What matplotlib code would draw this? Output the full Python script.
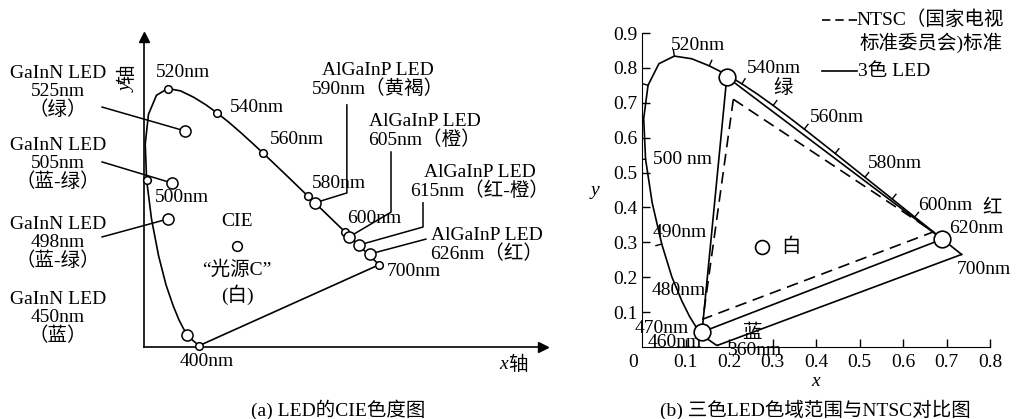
import numpy as np
import matplotlib
matplotlib.use('Agg')
import matplotlib.pyplot as plt

plt.rcParams['font.family'] = ['Liberation Serif', 'Noto Sans CJK SC']
plt.rcParams['font.size'] = 14

# CIE 1931 光谱轨迹 (波长 nm, x, y)
wl = np.array([380, 385, 390, 395, 400, 405, 410, 415, 420, 425, 430, 435, 440, 445,
               450, 455, 460, 465, 470, 475, 480, 485, 490, 495, 500, 505, 510, 515,
               520, 525, 530, 535, 540, 545, 550, 555, 560, 565, 570, 575, 580, 585,
               590, 595, 600, 605, 610, 615, 620, 625, 630, 635, 640, 645, 650, 660,
               670, 680, 690, 700])
cie_x = np.array([0.1741, 0.1740, 0.1738, 0.1736, 0.1733, 0.1730, 0.1726, 0.1721, 0.1714,
                  0.1703, 0.1689, 0.1669, 0.1644, 0.1611, 0.1566, 0.1510, 0.1440, 0.1355,
                  0.1241, 0.1096, 0.0913, 0.0687, 0.0454, 0.0235, 0.0082, 0.0039, 0.0139,
                  0.0389, 0.0743, 0.1142, 0.1547, 0.1929, 0.2296, 0.2658, 0.3016, 0.3373,
                  0.3731, 0.4087, 0.4441, 0.4788, 0.5125, 0.5448, 0.5752, 0.6029, 0.6270,
                  0.6482, 0.6658, 0.6801, 0.6915, 0.7006, 0.7079, 0.7140, 0.7190, 0.7230,
                  0.7260, 0.7300, 0.7320, 0.7334, 0.7344, 0.7347])
cie_y = np.array([0.0050, 0.0050, 0.0049, 0.0049, 0.0048, 0.0048, 0.0048, 0.0048, 0.0051,
                  0.0058, 0.0069, 0.0086, 0.0109, 0.0138, 0.0177, 0.0227, 0.0297, 0.0399,
                  0.0578, 0.0868, 0.1327, 0.2007, 0.2950, 0.4127, 0.5384, 0.6548, 0.7502,
                  0.8120, 0.8338, 0.8262, 0.8059, 0.7816, 0.7543, 0.7243, 0.6923, 0.6589,
                  0.6245, 0.5896, 0.5547, 0.5202, 0.4866, 0.4544, 0.4242, 0.3965, 0.3725,
                  0.3514, 0.3340, 0.3197, 0.3083, 0.2993, 0.2920, 0.2859, 0.2809, 0.2770,
                  0.2740, 0.2700, 0.2680, 0.2666, 0.2656, 0.2653])


def locus(w):
    return np.interp(w, wl, cie_x), np.interp(w, wl, cie_y)


# (a) 图数据
marked_wl = [400, 500, 520, 540, 560, 580, 600, 700]
led_x = [0.128, 0.0875, 0.075, 0.134, 0.534, 0.641, 0.672, 0.706]
led_y = [0.697, 0.529, 0.413, 0.039, 0.465, 0.355, 0.329, 0.300]
white_c = (0.29, 0.326)

# (b) 图数据
led3_x = [0.195, 0.690, 0.138]   # 绿, 红, 蓝
led3_y = [0.774, 0.309, 0.043]
ntsc_x = [0.21, 0.67, 0.14]
ntsc_y = [0.71, 0.33, 0.08]
white_b = (0.276, 0.287)

fig = plt.figure(figsize=(10.18, 4.19), dpi=100)

# ---------------- (a) LED的CIE色度图 ----------------
ax = fig.add_axes([144 / 1018, 72 / 419, 399 / 1018, 310 / 419])
ax.set_xlim(0, 1.247)
ax.set_ylim(0, 1.0)
for s in ['top', 'right']:
    ax.spines[s].set_visible(False)
for s in ['left', 'bottom']:
    ax.spines[s].set_linewidth(1.2)
ax.set_xticks([])
ax.set_yticks([])
ax.plot(1, 0, '>k', ms=7, transform=ax.transAxes, clip_on=False)
ax.plot(0, 1, '^k', ms=7, transform=ax.transAxes, clip_on=False)

sel = (wl >= 400)
ax.plot(cie_x[sel], cie_y[sel], 'k-', lw=1.2)
x400, y400 = locus(400)
x700, y700 = locus(700)
ax.plot([x400, x700], [y400, y700], 'k-', lw=1.2)

mx, my = locus(np.array(marked_wl))
ax.plot(mx, my, 'o', ms=5.5, mfc='white', mec='k', mew=1.1, zorder=5, clip_on=False)

# 左侧 GaInN 引线
for i, ly in zip(range(3), [0.774, 0.597, 0.355]):
    ax.plot([-0.131, led_x[i]], [ly, led_y[i]], 'k-', lw=1.1, clip_on=False)
# 右侧 AlGaInP 引线 (竖线 + 斜线)
tops = [(0.634, 0.781), (0.772, 0.629), (0.872, 0.465), (0.881, 0.348)]
elbows = [(0.634, 0.497), (0.772, 0.435), (0.872, 0.387), (0.881, 0.348)]
for i, (t, e) in enumerate(zip(tops, elbows)):
    ax.plot([t[0], e[0], led_x[4 + i]], [t[1], e[1], led_y[4 + i]], 'k-', lw=1.1)

ax.plot(led_x, led_y, 'o', ms=8, mfc='white', mec='k', mew=1.1, zorder=6, clip_on=False)
ax.plot(*white_c, 'o', ms=7, mfc='white', mec='k', mew=1.1, zorder=6)

ls = 1.05
ax.text(-0.269, 0.823, 'GaInN LED\n525nm\n（绿）', ha='center', va='center', linespacing=ls)
ax.text(-0.269, 0.590, 'GaInN LED\n505nm\n（蓝-绿）', ha='center', va='center', linespacing=ls)
ax.text(-0.269, 0.335, 'GaInN LED\n498nm\n（蓝-绿）', ha='center', va='center', linespacing=ls)
ax.text(-0.269, 0.094, 'GaInN LED\n450nm\n（蓝）', ha='center', va='center', linespacing=ls)

ax.text(0.122, 0.887, '520nm', ha='center', va='center')
ax.text(0.269, 0.774, '540nm', ha='left', va='center')
ax.text(0.394, 0.668, '560nm', ha='left', va='center')
ax.text(0.525, 0.529, '580nm', ha='left', va='center')
ax.text(0.634, 0.416, '600nm', ha='left', va='center')
ax.text(0.759, 0.242, '700nm', ha='left', va='center')
ax.text(0.034, 0.481, '500nm', ha='left', va='center')
ax.text(0.197, -0.048, '400nm', ha='center', va='center')

ax.text(0.291, 0.406, 'CIE', ha='center', va='center')
ax.text(0.291, 0.248, '“光源C”', ha='center', va='center')
ax.text(0.291, 0.168, '(白)', ha='center', va='center')

ax.text(0.731, 0.861, 'AlGaInP LED\n590nm（黄褐）', ha='center', va='center', linespacing=ls)
ax.text(0.878, 0.697, 'AlGaInP LED\n605nm（橙）', ha='center', va='center', linespacing=ls)
ax.text(1.050, 0.532, 'AlGaInP LED\n615nm（红-橙）', ha='center', va='center', linespacing=ls)
ax.text(1.072, 0.329, 'AlGaInP LED\n626nm（红）', ha='center', va='center', linespacing=ls)

ax.text(1.137, -0.058, 'x', style='italic', ha='right', va='center')
ax.text(1.137, -0.058, '轴', ha='left', va='center')
ax.text(-0.053, 0.85, 'y', style='italic', rotation=90, ha='center', va='top')
ax.text(-0.053, 0.85, '轴', rotation=90, ha='center', va='bottom')

fig.text(338 / 1018, 1 - 410 / 419, '(a) LED的CIE色度图', ha='center', va='center')

# ---------------- (b) 三色LED色域范围与NTSC对比图 ----------------
bx = fig.add_axes([642 / 1018, 72 / 419, 348 / 1018, 314 / 419])
bx.set_xlim(0, 0.8)
bx.set_ylim(0, 0.9)
for s in ['top', 'right']:
    bx.spines[s].set_visible(False)
bx.set_xticks(np.arange(0.1, 0.81, 0.1))
bx.set_yticks(np.arange(0.1, 0.91, 0.1))
bx.set_xticklabels(['0.1', '0.2', '0.3', '0.4', '0.5', '0.6', '0.7', '0.8'])
bx.set_yticklabels(['0.1', '0.2', '0.3', '0.4', '0.5', '0.6', '0.7', '0.8', '0.9'])
bx.tick_params(direction='in', length=6, width=1, labelsize=14)
bx.tick_params(axis='x', pad=5)
bx.tick_params(axis='y', pad=3)
bx.text(-0.021, -0.043, '0', ha='center', va='center')
bx.text(0.398, -0.10, 'x', style='italic', ha='center', va='center')
bx.text(-0.108, 0.45, 'y', style='italic', ha='center', va='center')

bx.plot(cie_x, cie_y, 'k-', lw=1.2)
bx.plot([cie_x[0], cie_x[-1]], [cie_y[0], cie_y[-1]], 'k-', lw=1.2)

# 轨迹上的波长刻度
for w in np.arange(490, 601, 10):
    p0 = bx.transData.transform(locus(w - 1))
    p1 = bx.transData.transform(locus(w + 1))
    t = (p1 - p0) / np.hypot(*(p1 - p0))
    c = bx.transData.transform(locus(w))
    e = bx.transData.inverted().transform(c + np.array([-t[1], t[0]]) * 6)
    cx, cy = locus(w)
    bx.plot([cx, e[0]], [cy, e[1]], 'k-', lw=1)

bx.plot(led3_x + led3_x[:1], led3_y + led3_y[:1], 'k-', lw=1.2)
bx.plot(ntsc_x + ntsc_x[:1], ntsc_y + ntsc_y[:1], 'k--', lw=1.2, dashes=(7, 4))
bx.plot(led3_x, led3_y, 'o', ms=12, mfc='white', mec='k', mew=1.2, zorder=6)
bx.plot(*white_b, 'o', ms=10, mfc='white', mec='k', mew=1.2, zorder=6)

bx.text(0.129, 0.865, '520nm', ha='center', va='center')
bx.text(0.241, 0.799, '540nm', ha='left', va='center')
bx.text(0.324, 0.742, '绿', ha='center', va='center')
bx.text(0.386, 0.659, '560nm', ha='left', va='center')
bx.text(0.520, 0.527, '580nm', ha='left', va='center')
bx.text(0.634, 0.407, '600nm', ha='left', va='center')
bx.text(0.805, 0.398, '红', ha='center', va='center')
bx.text(0.706, 0.341, '620nm', ha='left', va='center')
bx.text(0.724, 0.221, '700nm', ha='left', va='center')
bx.text(0.025, 0.536, '500 nm', ha='left', va='center')
bx.text(0.025, 0.327, '490nm', ha='left', va='center')
bx.text(0.023, 0.163, '480nm', ha='left', va='center')
bx.text(-0.016, 0.054, '470nm', ha='left', va='center')
bx.text(0.014, 0.014, '460nm', ha='left', va='center')
bx.text(0.195, -0.009, '360nm', ha='left', va='center')
bx.text(0.253, 0.040, '蓝', ha='center', va='center')
bx.text(0.343, 0.287, '白', ha='center', va='center')

# 图例
bx.plot([0.414, 0.494], [0.937, 0.937], 'k--', lw=1.2, dashes=(5, 3), clip_on=False)
bx.text(0.494, 0.937, 'NTSC（国家电视', ha='left', va='center')
bx.text(0.501, 0.871, '标准委员会)标准', ha='left', va='center')
bx.plot([0.414, 0.494], [0.791, 0.791], 'k-', lw=1.2, clip_on=False)
bx.text(0.497, 0.791, '3色 LED', ha='left', va='center')

fig.text(815 / 1018, 1 - 410 / 419, '(b) 三色LED色域范围与NTSC对比图', ha='center', va='center')

fig.savefig('out.png', dpi=100, facecolor='white')
